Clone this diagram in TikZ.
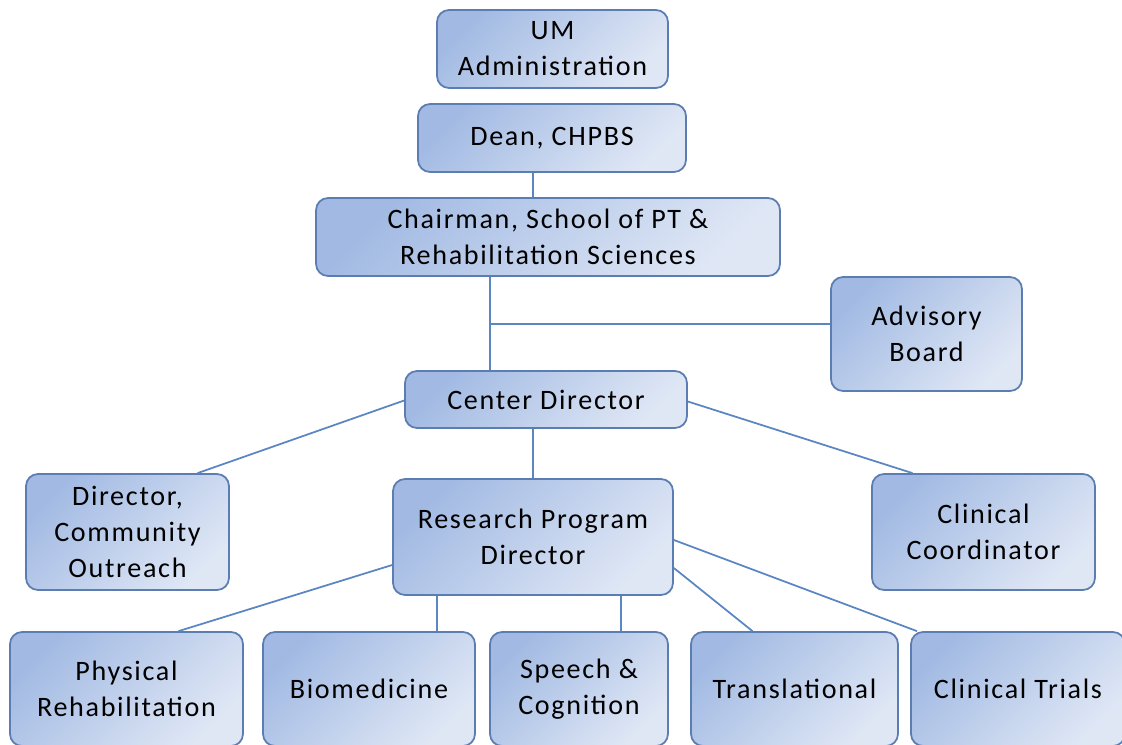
\documentclass[tikz,border=0pt]{standalone}
\usepackage{fontspec}
\setmainfont{Carlito}[LetterSpace=6]
\usepackage{xcolor}
\usetikzlibrary{calc}

\definecolor{boxdark}{HTML}{A2BAE3}
\definecolor{boxlight}{HTML}{DFE7F5}
\definecolor{boxedge}{HTML}{5B7DB1}
\definecolor{linkblue}{HTML}{5A86C2}

\begin{document}
\begin{tikzpicture}[x=0.02cm, y=-0.02cm,
    orgbox/.style={draw=boxedge, line width=1pt, rounded corners=0.24cm,
        left color=boxdark, right color=boxlight, shading angle=45,
        align=center, inner sep=2pt,
        font=\fontsize{16}{20.5}\selectfont},
    link/.style={draw=linkblue, line width=1pt}]
    \useasboundingbox (0,0) rectangle (1122,744);

    % upper levels
    \node[orgbox, minimum width=4.62cm, minimum height=1.56cm] (um) at (552.5,49) {UM\\Administration};
    \node[orgbox, minimum width=5.36cm, minimum height=1.36cm] (dean) at (552,138) {Dean, CHPBS};
    \node[orgbox, minimum width=9.28cm, minimum height=1.56cm] (chair) at (548,237) {Chairman, School of PT \&\\Rehabilitation Sciences};
    \node[orgbox, minimum width=3.82cm, minimum height=2.28cm] (advisory) at (926.5,334) {Advisory\\Board};
    \node[orgbox, minimum width=5.64cm, minimum height=1.14cm] (center) at (546,399.5) {Center Director};

    % middle level
    \node[orgbox, minimum width=4.06cm, minimum height=2.32cm] (outreach) at (127.5,532) {Director,\\Community\\Outreach};
    \node[orgbox, minimum width=5.60cm, minimum height=2.32cm] (rpd) at (533,537) {Research Program\\Director};
    \node[orgbox, minimum width=4.46cm, minimum height=2.32cm] (clinical) at (983.5,532) {Clinical\\Coordinator};

    % research programs
    \node[orgbox, minimum width=4.66cm, minimum height=2.28cm] (physical) at (126.5,689) {Physical\\Rehabilitation};
    \node[orgbox, minimum width=4.24cm, minimum height=2.28cm] (biomed) at (369,689) {Biomedicine};
    \node[orgbox, minimum width=3.56cm, minimum height=2.28cm] (speech) at (579,689) {Speech \&\\Cognition};
    \node[orgbox, minimum width=4.14cm, minimum height=2.28cm] (transl) at (794.5,689) {Translational};
    \node[orgbox, minimum width=4.28cm, minimum height=2.28cm] (trials) at (1018,689) {Clinical Trials};

    % connectors
    \draw[link] ($(dean.south)+(-19,0)$) coordinate (dc) -- (dc |- chair.north);
    \draw[link] ($(chair.south)+(-58,0)$) coordinate (cc) -- (cc |- center.north);
    \draw[link] ($(advisory.west)+(0,-10)$) coordinate (aw) -- (aw -| cc);
    \draw[link] ($(center.west)+(0,1)$) -- ($(outreach.north)+(70,0)$);
    \draw[link] ($(center.south)+(-13,0)$) coordinate (cr) -- (cr |- rpd.north);
    \draw[link] ($(center.east)+(0,2)$) -- ($(clinical.north)+(-71,0)$);
    \draw[link] ($(rpd.west)+(0,28)$) -- ($(physical.north)+(52,0)$);
    \draw[link] ($(rpd.south)+(-96,0)$) coordinate (rb) -- (rb |- biomed.north);
    \draw[link] ($(rpd.south)+(88,0)$) coordinate (rs) -- (rs |- speech.north);
    \draw[link] ($(rpd.east)+(0,31)$) -- ($(transl.north)+(-42,0)$);
    \draw[link] ($(rpd.east)+(0,3)$) -- ($(trials.north)+(-101,0)$);
\end{tikzpicture}
\end{document}
